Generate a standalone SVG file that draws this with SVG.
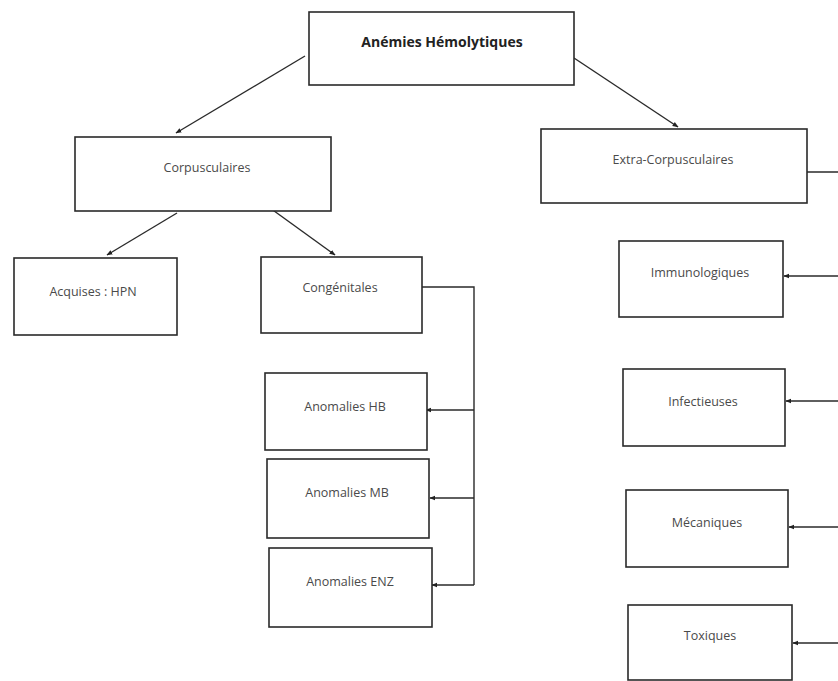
<svg xmlns="http://www.w3.org/2000/svg" width="838" height="681" viewBox="0 0 838 681">
<defs>
<marker id="ah" viewBox="0 0 10 10" refX="9" refY="5" markerWidth="6" markerHeight="6" orient="auto" markerUnits="userSpaceOnUse">
<path d="M0,1 L10,5 L0,9 z" fill="#222"/>
</marker>
<style>
.box{fill:#fff;stroke:#2a2a2a;stroke-width:1.6}
.t{font-family:"Open Sans","Liberation Sans",sans-serif;font-size:12.5px;fill:#4a4a4a;text-anchor:middle}
.tb{font-family:"Open Sans","Liberation Sans",sans-serif;font-size:14px;font-weight:bold;fill:#222;text-anchor:middle}
.c{fill:none;stroke:#2a2a2a;stroke-width:1.4}
.ca{fill:none;stroke:#2a2a2a;stroke-width:1.4;marker-end:url(#ah)}
</style>
</defs>
<rect width="838" height="681" fill="#fff"/>
<g id="connectors">
<line class="ca" x1="305" y1="56" x2="176" y2="133"/>
<line class="ca" x1="574" y1="58" x2="678" y2="127"/>
<line class="ca" x1="177" y1="213" x2="107" y2="255"/>
<line class="ca" x1="270" y1="208" x2="335" y2="255"/>
<polyline class="c" points="422,287 474,287 474,585"/>
<line class="ca" x1="474" y1="410" x2="426" y2="410"/>
<line class="ca" x1="474" y1="498" x2="430" y2="498"/>
<line class="ca" x1="474" y1="585" x2="432" y2="585"/>
<line class="c" x1="803" y1="172" x2="838" y2="172"/>
<line class="ca" x1="838" y1="276" x2="784" y2="276"/>
<line class="ca" x1="838" y1="401" x2="786" y2="401"/>
<line class="ca" x1="838" y1="527" x2="789" y2="527"/>
<line class="ca" x1="838" y1="643" x2="793" y2="643"/>
</g>
<g id="n-anemies"><rect class="box" x="309" y="12" width="265" height="73"/><text class="tb" x="442" y="47">Anémies Hémolytiques</text></g>
<g id="n-corpusculaires"><rect class="box" x="75" y="137" width="256" height="74"/><text class="t" x="207" y="172">Corpusculaires</text></g>
<g id="n-extra"><rect class="box" x="541" y="129" width="266" height="74"/><text class="t" x="673" y="164">Extra-Corpusculaires</text></g>
<g id="n-acquises"><rect class="box" x="14" y="258" width="163" height="77"/><text class="t" x="93" y="296">Acquises : HPN</text></g>
<g id="n-congenitales"><rect class="box" x="261" y="257" width="161" height="76"/><text class="t" x="340" y="292">Congénitales</text></g>
<g id="n-hb"><rect class="box" x="265" y="373" width="162" height="77"/><text class="t" x="345" y="411">Anomalies HB</text></g>
<g id="n-mb"><rect class="box" x="267" y="459" width="162" height="79"/><text class="t" x="347" y="497">Anomalies MB</text></g>
<g id="n-enz"><rect class="box" x="269" y="548" width="163" height="79"/><text class="t" x="350" y="586">Anomalies ENZ</text></g>
<g id="n-immuno"><rect class="box" x="619" y="241" width="164" height="76"/><text class="t" x="700" y="277">Immunologiques</text></g>
<g id="n-infect"><rect class="box" x="623" y="369" width="162" height="77"/><text class="t" x="703" y="406">Infectieuses</text></g>
<g id="n-meca"><rect class="box" x="626" y="490" width="162" height="77"/><text class="t" x="707" y="527">Mécaniques</text></g>
<g id="n-toxiques"><rect class="box" x="628" y="605" width="164" height="75"/><text class="t" x="710" y="640">Toxiques</text></g>
</svg>
